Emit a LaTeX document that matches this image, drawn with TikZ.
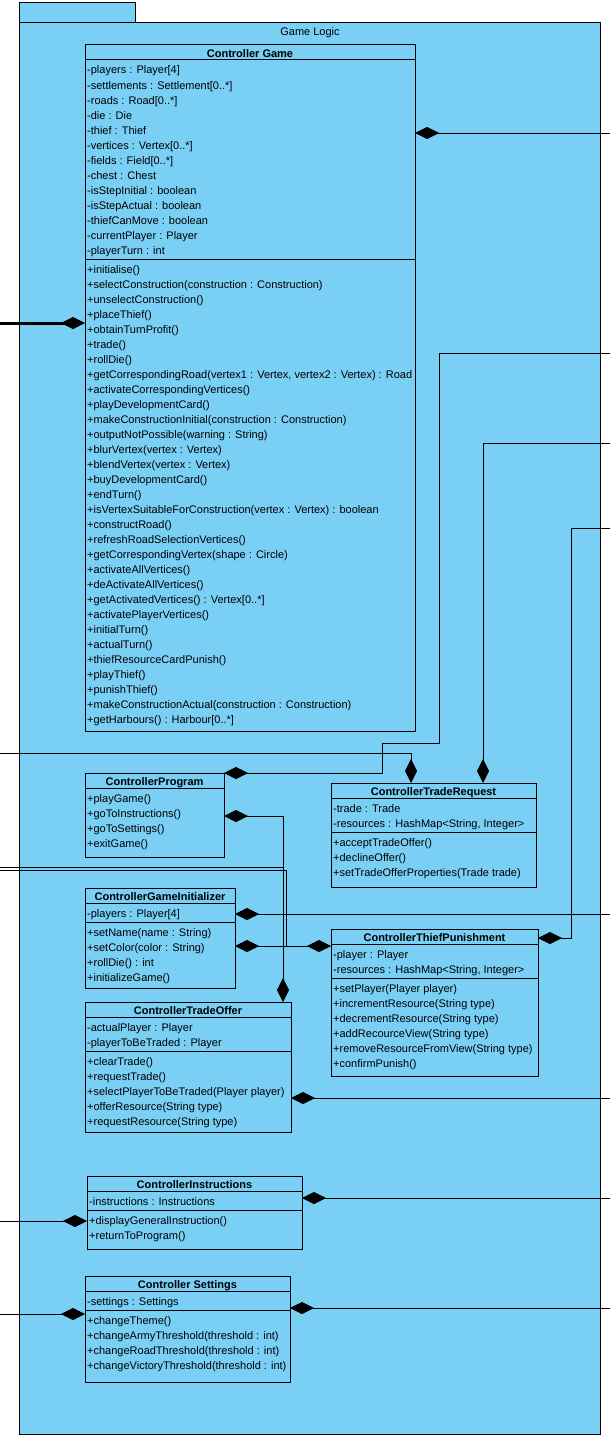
\documentclass[tikz,border=0pt]{standalone}
\usepackage{fontspec}
\setmainfont{Liberation Sans}
\usetikzlibrary{arrows.meta}
\definecolor{pkgfill}{RGB}{122,207,245}

\tikzset{
  umlline/.style={line width=1pt, draw=black},
  pkgbox/.style={draw=black, line width=1pt, fill=pkgfill, anchor=north west, inner sep=0pt, outer sep=0pt},
  classbox/.style={draw=black, line width=1pt, fill=pkgfill, anchor=north west, inner sep=0pt, outer sep=0pt},
  classtitle/.style={font=\fontsize{11}{13}\selectfont\bfseries, anchor=base, inner sep=0pt},
  member/.style={font=\fontsize{11}{13}\selectfont, anchor=base west, inner sep=0pt},
  comp/.style={line width=1pt, draw=black, -{Diamond[length=24pt, width=12pt, line width=0.6pt]}},
}

% class frame: name, left, top, right, bottom, title
\newcommand{\umlclass}[6]{%
  \node[classbox, minimum width={(#4-#2)*1pt}, minimum height={(#5-#3)*1pt}] (#1) at (#2,#3) {};
  \node[classtitle] at ([yshift=-12pt]#1.north) {#6};
  \umlsep{#1}{15}}
% compartment separator at a distance below the top edge
\newcommand{\umlsep}[2]{\draw[umlline] ([yshift=-#2pt]#1.north west) -- ([yshift=-#2pt]#1.north east);}
% member rows: class node, baseline of first row below top, list of rows
\newcommand{\umlrows}[3]{%
  \foreach \rowtext [count=\rowidx from 0] in {#3}{%
    \node[member] at ([xshift=2pt,yshift={-(#2+15*\rowidx)*1pt}]#1.north west) {\rowtext};}}

\begin{document}
\begin{tikzpicture}[x=1pt, y=-1pt]
\useasboundingbox (0,0) rectangle (610,1445);

% package frame
\node[pkgbox, minimum width=116pt, minimum height=20pt] (pkgtab) at (19,3) {};
\node[pkgbox, minimum width=581pt, minimum height=1411pt] (pkg) at (19,23) {};
\node[member, anchor=base] (pkglabel) at (310,35.5) {Game Logic};

% Controller Game
\umlclass{cg}{85}{45}{415}{731}{Controller Game}
\umlrows{cg}{29}{{-players : Player[4]},{-settlements : Settlement[0..*]},{-roads : Road[0..*]},{-die : Die},{-thief : Thief},{-vertices : Vertex[0..*]},{-fields : Field[0..*]},{-chest : Chest},{-isStepInitial : boolean},{-isStepActual : boolean},{-thiefCanMove : boolean},{-currentPlayer : Player},{-playerTurn : int}}
\umlsep{cg}{214}
\umlrows{cg}{228}{{+initialise()},{+selectConstruction(construction : Construction)},{+unselectConstruction()},{+placeThief()},{+obtainTurnProfit()},{+trade()},{+rollDie()},{+getCorrespondingRoad(vertex1 : Vertex, vertex2 : Vertex) : Road},{+activateCorrespondingVertices()},{+playDevelopmentCard()},{+makeConstructionInitial(construction : Construction)},{+outputNotPossible(warning : String)},{+blurVertex(vertex : Vertex)},{+blendVertex(vertex : Vertex)},{+buyDevelopmentCard()},{+endTurn()},{+isVertexSuitableForConstruction(vertex : Vertex) : boolean},{+constructRoad()},{+refreshRoadSelectionVertices()},{+getCorrespondingVertex(shape : Circle)},{+activateAllVertices()},{+deActivateAllVertices()},{+getActivatedVertices() : Vertex[0..*]},{+activatePlayerVertices()},{+initialTurn()},{+actualTurn()},{+thiefResourceCardPunish()},{+playThief()},{+punishThief()},{+makeConstructionActual(construction : Construction)},{+getHarbours() : Harbour[0..*]}}

% ControllerProgram
\umlclass{prog}{85}{773}{224}{857}{ControllerProgram}
\umlrows{prog}{29}{{+playGame()},{+goToInstructions()},{+goToSettings()},{+exitGame()}}

% ControllerTradeRequest
\umlclass{tr}{331}{783}{536}{887}{ControllerTradeRequest}
\umlrows{tr}{29}{{-trade : Trade},{-resources : HashMap<String, Integer>}}
\umlsep{tr}{49}
\umlrows{tr}{63}{{+acceptTradeOffer()},{+declineOffer()},{+setTradeOfferProperties(Trade trade)}}

% ControllerGameInitializer
\umlclass{gi}{85}{888}{235}{988}{ControllerGameInitializer}
\umlrows{gi}{29}{{-players : Player[4]}}
\umlsep{gi}{34}
\umlrows{gi}{48}{{+setName(name : String)},{+setColor(color : String)},{+rollDie() : int},{+initializeGame()}}

% ControllerThiefPunishment
\umlclass{tp}{331}{929}{538}{1076}{ControllerThiefPunishment}
\umlrows{tp}{29}{{-player : Player},{-resources : HashMap<String, Integer>}}
\umlsep{tp}{49}
\umlrows{tp}{63}{{+setPlayer(Player player)},{+incrementResource(String type)},{+decrementResource(String type)},{+addRecourceView(String type)},{+removeResourceFromView(String type)},{+confirmPunish()}}

% ControllerTradeOffer
\umlclass{to}{85}{1002}{291}{1132}{ControllerTradeOffer}
\umlrows{to}{29}{{-actualPlayer : Player},{-playerToBeTraded : Player}}
\umlsep{to}{49}
\umlrows{to}{63}{{+clearTrade()},{+requestTrade()},{+selectPlayerToBeTraded(Player player)},{+offerResource(String type)},{+requestResource(String type)}}

% ControllerInstructions
\umlclass{ci}{87}{1176}{302}{1249}{ControllerInstructions}
\umlrows{ci}{29}{{-instructions : Instructions}}
\umlsep{ci}{34}
\umlrows{ci}{48}{{+displayGeneralInstruction()},{+returnToProgram()}}

% Controller Settings
\umlclass{cs}{85}{1276}{290}{1382}{Controller Settings}
\umlrows{cs}{29}{{-settings : Settings}}
\umlsep{cs}{34}
\umlrows{cs}{48}{{+changeTheme()},{+changeArmyThreshold(threshold : int)},{+changeRoadThreshold(threshold : int)},{+changeVictoryThreshold(threshold : int)}}

% free ends and bends of the composition links
\coordinate (o1) at (610,133);
\coordinate (o2) at (0,323);
\coordinate (o3) at (610,353);
\coordinate (b3) at (439,743);
\coordinate (b3b) at (382,773);
\coordinate (o4) at (610,443);
\coordinate (o5) at (610,528);
\coordinate (b5) at (571,938);
\coordinate (o6) at (0,753);
\coordinate (o7) at (0,867);
\coordinate (b7) at (283,816);
\coordinate (b8) at (283,867);
\coordinate (o9) at (0,870);
\coordinate (b9) at (286,946);
\coordinate (o11) at (610,914);
\coordinate (o12) at (610,1098);
\coordinate (o13) at (610,1198);
\coordinate (o14) at (0,1221);
\coordinate (o15) at (610,1308);
\coordinate (o16) at (0,1314);

% composition links
\draw[comp] (o1) -- ([yshift=-88pt]cg.north east);
\draw[comp, line width=3pt] (o2) -- ([yshift=-278pt]cg.north west);
\draw[comp] (o3) -| (b3) -| (b3b) -- (prog.north east);
\draw[comp] (o4) -| ([xshift=152pt]tr.north west);
\draw[comp] (o5) -| (b5) -- ([yshift=-9pt]tp.north east);
\draw[comp] (o6) -| ([xshift=80pt]tr.north west);
\draw[comp] (o7) -| (b7) -- ([yshift=-43pt]prog.north east);
\draw[comp] (b8) -- ([xshift=198pt]to.north west);
\draw[comp] (o9) -| (b9) -- ([yshift=-17pt]tp.north west);
\draw[comp] (b9) -- ([yshift=-58pt]gi.north east);
\draw[comp] (o11) -- ([yshift=-26pt]gi.north east);
\draw[comp] (o12) -- ([yshift=-96pt]to.north east);
\draw[comp] (o13) -- ([yshift=-22pt]ci.north east);
\draw[comp] (o14) -- ([yshift=-45pt]ci.north west);
\draw[comp] (o15) -- ([yshift=-32pt]cs.north east);
\draw[comp] (o16) -- ([yshift=-38pt]cs.north west);
\end{tikzpicture}
\end{document}
